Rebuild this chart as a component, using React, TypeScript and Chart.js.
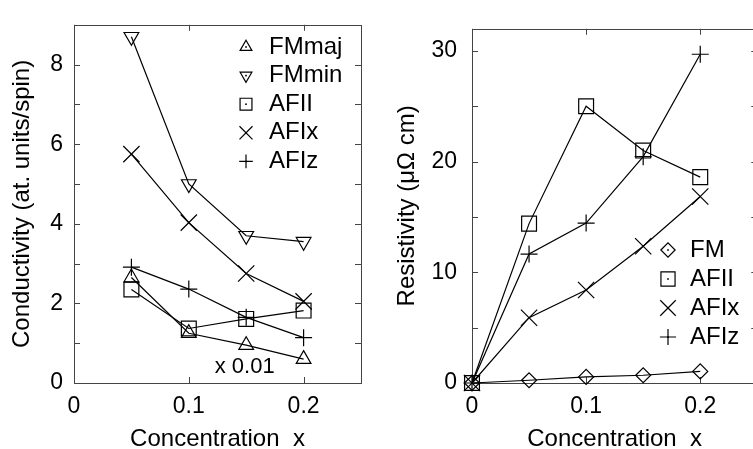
import React, { useEffect, useRef } from 'react';
import { Chart, registerables } from 'chart.js';
import { drawPoint } from 'chart.js/helpers';

Chart.register(...registerables);

// ---------- data ----------
const concLeft = [0.05, 0.1, 0.15, 0.2];
const fmMajCond = [2.65, 1.25, 0.95, 0.6];
const fmMinCond = [8.7, 5.0, 3.7, 3.55];
const afIICond = [2.35, 1.37, 1.61, 1.82];
const afIxCond = [5.75, 4.03, 2.75, 2.05];
const afIzCond = [2.91, 2.36, 1.65, 1.14];

const concRight = [0, 0.05, 0.1, 0.15, 0.2];
const fmRes = [0, 0.25, 0.55, 0.7, 1.05];
const afIIRes = [0, 14.4, 25.0, 21.0, 18.6];
const afIxRes = [0, 5.9, 8.4, 12.35, 16.85];
const afIzRes = [0, 11.65, 14.45, 20.45, 29.7];

const xTickValues = [0, 0.1, 0.2];
const yTicksLeft = [0, 1, 2, 3, 4, 5, 6, 7, 8, 9];
const yLabelsLeft = [0, 2, 4, 6, 8];
const yTicksRight = [0, 5, 10, 15, 20, 25, 30];
const yLabelsRight = [0, 10, 20, 30];

const FONT = '"Liberation Sans", Arial, Helvetica, sans-serif';

const mk = (xs: number[], ys: number[]) => xs.map((x, i) => ({ x, y: ys[i] }));

const ds = (label: string, data: any[], pointStyle: string, radius: number, rotation = 0) => ({
  label,
  data,
  pointStyle,
  pointRadius: radius,
  pointRotation: rotation,
  borderColor: '#000',
  borderWidth: 1.2,
  pointBorderColor: '#000',
  pointBackgroundColor: 'rgba(0,0,0,0)',
  pointBorderWidth: 1.2,
  tension: 0,
  clip: false as any,
});

const framePlugin = {
  id: 'frame',
  beforeDatasetsDraw(chart: any) {
    const { ctx, chartArea: a, scales } = chart;
    ctx.save();
    ctx.strokeStyle = '#444';
    ctx.lineWidth = 1;
    ctx.strokeRect(Math.round(a.left) + 0.5, Math.round(a.top) + 0.5, Math.round(a.right - a.left), Math.round(a.bottom - a.top));
    const L = 6;
    ctx.beginPath();
    scales.x.ticks.forEach((t: any) => {
      const px = Math.round(scales.x.getPixelForValue(t.value)) + 0.5;
      ctx.moveTo(px, a.bottom);
      ctx.lineTo(px, a.bottom - L);
      ctx.moveTo(px, a.top);
      ctx.lineTo(px, a.top + L);
    });
    scales.y.ticks.forEach((t: any) => {
      const py = Math.round(scales.y.getPixelForValue(t.value)) + 0.5;
      ctx.moveTo(a.left, py);
      ctx.lineTo(a.left + L, py);
      ctx.moveTo(a.right, py);
      ctx.lineTo(a.right - L, py);
    });
    ctx.stroke();
    ctx.restore();
  },
};

const keyPlugin = {
  id: 'key',
  afterDraw(chart: any, _args: any, opts: any) {
    const { ctx } = chart;
    ctx.save();
    chart.data.datasets.forEach((d: any, i: number) => {
      const y = opts.y + i * opts.dy;
      ctx.strokeStyle = '#000';
      ctx.fillStyle = 'rgba(0,0,0,0)';
      ctx.lineWidth = 1.2;
      drawPoint(ctx, { pointStyle: d.pointStyle, rotation: d.pointRotation, radius: d.pointRadius * opts.scale, borderWidth: 1.2 } as any, opts.sx, y);
      ctx.fillStyle = '#000';
      ctx.fillRect(opts.sx - 0.8, y - 0.8, 1.6, 1.6);
      ctx.font = `24px ${FONT}`;
      ctx.textBaseline = 'middle';
      ctx.textAlign = 'left';
      ctx.fillText(d.label, opts.tx, y);
    });
    ctx.restore();
  },
};

const notePlugin = {
  id: 'note',
  afterDraw(chart: any, _args: any, opts: any) {
    if (!opts || !opts.text) return;
    const { ctx, scales } = chart;
    ctx.save();
    ctx.font = `22px ${FONT}`;
    ctx.fillStyle = '#000';
    ctx.textAlign = 'center';
    ctx.textBaseline = 'middle';
    ctx.fillText(opts.text, scales.x.getPixelForValue(opts.x), scales.y.getPixelForValue(opts.y));
    ctx.restore();
  },
};

function axisX(title: string) {
  return {
    type: 'linear',
    min: 0,
    max: 0.25,
    afterBuildTicks: (s: any) => { s.ticks = xTickValues.map((v) => ({ value: v })); },
    afterFit: (s: any) => { s.height = 66; },
    grid: { display: false, drawTicks: false },
    border: { display: false },
    ticks: { padding: 10, color: '#000', font: { family: FONT, size: 23 }, callback: (v: any) => String(v), autoSkip: false, maxRotation: 0 },
    title: { display: true, text: title, color: '#000', font: { family: FONT, size: 24, lineHeight: 0.83 }, padding: 0 },
  };
}

function axisY(title: string, max: number, tickVals: number[], labelVals: number[], width: number, titlePad: number, tickPad: number) {
  return {
    type: 'linear',
    min: 0,
    max,
    afterBuildTicks: (s: any) => { s.ticks = tickVals.map((v) => ({ value: v })); },
    afterFit: (s: any) => { s.width = width; },
    grid: { display: false, drawTicks: false },
    border: { display: false },
    ticks: { padding: tickPad, color: '#000', font: { family: FONT, size: 23 }, autoSkip: false, callback: (v: any) => (labelVals.includes(v) ? String(v) : '') },
    title: { display: true, text: title, color: '#000', font: { family: FONT, size: 24 }, padding: { top: titlePad, bottom: 0 } },
  };
}

function useChart(ref: React.RefObject<HTMLCanvasElement>, build: () => any) {
  useEffect(() => {
    if (!ref.current) return;
    const chart = new Chart(ref.current, build());
    return () => chart.destroy();
  }, []);
}

export default function App() {
  const leftRef = useRef<HTMLCanvasElement>(null);
  const rightRef = useRef<HTMLCanvasElement>(null);

  useChart(leftRef, () => ({
    type: 'line',
    data: {
      datasets: [
        ds('FMmaj', mk(concLeft, fmMajCond), 'triangle', 8.5),
        ds('FMmin', mk(concLeft, fmMinCond), 'triangle', 8.5, 180),
        ds('AFII', mk(concLeft, afIICond), 'rect', 10.5),
        ds('AFIx', mk(concLeft, afIxCond), 'crossRot', 11.5),
        ds('AFIz', mk(concLeft, afIzCond), 'cross', 8.5),
      ],
    },
    options: {
      animation: false,
      responsive: false,
      maintainAspectRatio: false,
      devicePixelRatio: 1,
      layout: { padding: { top: 13, right: 19, left: 0, bottom: 0 } },
      plugins: {
        legend: { display: false },
        tooltip: { enabled: false },
        key: { sx: 246, tx: 269, y: 47, dy: 28.6, scale: 0.8 },
        note: { text: 'x 0.01', x: 0.1487, y: 0.41 },
      },
      scales: {
        x: axisX('Concentration  x'),
        y: axisY('Conductivity (at. units/spin)', 9, yTicksLeft, yLabelsLeft, 74, 8, 11),
      },
    },
    plugins: [framePlugin, keyPlugin, notePlugin],
  }));

  useChart(rightRef, () => ({
    type: 'line',
    data: {
      datasets: [
        ds('FM', mk(concRight, fmRes), 'rectRot', 7.5),
        ds('AFII', mk(concRight, afIIRes), 'rect', 10.5),
        ds('AFIx', mk(concRight, afIxRes), 'crossRot', 11.5),
        ds('AFIz', mk(concRight, afIzRes), 'cross', 8.5),
      ],
    },
    options: {
      animation: false,
      responsive: false,
      maintainAspectRatio: false,
      devicePixelRatio: 1,
      layout: { padding: { top: 13, right: 12, left: 0, bottom: 0 } },
      plugins: {
        legend: { display: false },
        tooltip: { enabled: false },
        key: { sx: 288, tx: 310, y: 250, dy: 29, scale: 0.95 },
        note: {},
      },
      scales: {
        x: axisX('Concentration  x'),
        y: axisY('Resistivity (\u03bc\u03a9 cm)', 32, yTicksRight, yLabelsRight, 92, 13, 15),
      },
    },
    plugins: [framePlugin, keyPlugin, notePlugin],
  }));

  return (
    <div style={{ position: 'fixed', left: 0, top: 0, width: 753, height: 449, overflow: 'hidden', background: '#fff' }}>
      <canvas ref={leftRef} width={380} height={449} style={{ position: 'absolute', left: 0, top: 0, width: 380, height: 449 }} />
      <canvas ref={rightRef} width={390} height={449} style={{ position: 'absolute', left: 380, top: 0, width: 390, height: 449 }} />
    </div>
  );
}
